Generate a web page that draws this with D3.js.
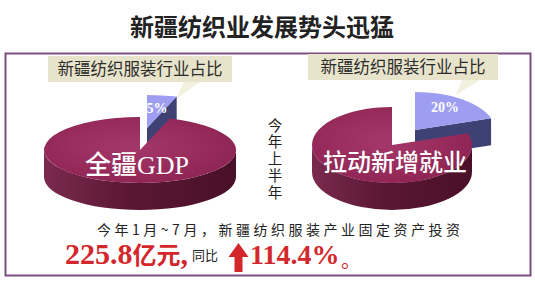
<!DOCTYPE html>
<html><head><meta charset="utf-8">
<script src="https://cdn.jsdelivr.net/npm/d3@7"></script>
<style>body{margin:0;background:#fff}svg{display:block}</style>
</head><body>
<script>
// ---- data ----
const title = "新疆纺织业发展势头迅猛";
const pieNames = ["全疆GDP", "拉动新增就业"];
const industryShare = [5, 20];           // percent
const shareLabels = ["5%", "20%"];
const calloutLabel = "新疆纺织服装行业占比";
const periodLabel = "今年上半年";
const investNote = "今年1月~7月，新疆纺织服装产业固定资产投资";
const investValue = "225.8";
const investUnit = "亿元";
const growthWord = "同比";
const growthValue = "114.4%";

// ---- layout ----
const W = 535, H = 286;
const layouts = [
  {cx:140, cy:150, rx:96, ry:33, depth:27, explode:[7,-22], labelX:137, labelY:174, labelSize:26,
   pctX:157, pctY:113, box:{x:48,y:56,w:184,h:26}, tail:[[184,82],[200,82],[176,99]]},
  {cx:392, cy:145, rx:80, ry:38, depth:27, explode:[23,-15], labelX:395, labelY:171, labelSize:24,
   pctX:445, pctY:112, box:{x:308,y:54,w:190,h:26}, tail:[[462,80],[480,80],[456,95]]}
];
const mainCols = {top:"url(#mainTop)", side:"url(#mainSide)", face:"#5a1734"};
const sliceCols = {top:"#9d9ef2", side:"#3e4173", face:"#3e4173"};
const red = "#d3272c";
const cjk = "'Noto Sans CJK SC', sans-serif";
const serif = "'Liberation Serif', 'Noto Sans CJK SC', serif";

const svg = d3.select("body").append("svg").attr("width", W).attr("height", H);
const defs = svg.append("defs");
const mt = defs.append("radialGradient").attr("id","mainTop").attr("cx","45%").attr("cy","45%").attr("r","60%");
mt.append("stop").attr("offset","0%").attr("stop-color","#a5386a");
mt.append("stop").attr("offset","100%").attr("stop-color","#8e2454");
const ms = defs.append("linearGradient").attr("id","mainSide").attr("x1","0").attr("x2","1").attr("y1","0").attr("y2","0");
ms.append("stop").attr("offset","0%").attr("stop-color","#7a2a4e");
ms.append("stop").attr("offset","45%").attr("stop-color","#5a1734");
ms.append("stop").attr("offset","100%").attr("stop-color","#4a1029");

// title
svg.append("text").attr("x", 262).attr("y", 36).attr("text-anchor","middle")
  .attr("font-family", cjk).attr("font-weight", 700).attr("font-size", 24).attr("fill", "#222")
  .text(title);

// frame
svg.append("rect").attr("x", 5.5).attr("y", 53.5).attr("width", 525).attr("height", 222)
  .attr("fill", "#fff").attr("stroke", "#7d4f80").attr("stroke-width", 2);

function pie3d(g, share, L) {
  const arcs = d3.pie().sort(null).startAngle(0).endAngle(2 * Math.PI)([share, 100 - share]);
  const k = L.ry / L.rx, R = L.rx, D = L.depth / k;
  const arcGen = d3.arc().innerRadius(0).outerRadius(R);
  const P = (a, dy = 0) => [R * Math.sin(a), -R * Math.cos(a) + dy];
  arcs.forEach((a, i) => {
    const off = i === 0 ? L.explode : [0, 0];
    const cols = i === 0 ? sliceCols : mainCols;
    const gg = g.append("g").attr("transform", `translate(${L.cx + off[0]},${L.cy + off[1]}) scale(1,${k})`);
    // outer wall (front half only)
    const b0 = Math.max(a.startAngle, Math.PI / 2), b1 = Math.min(a.endAngle, 3 * Math.PI / 2);
    if (b1 > b0) {
      const t0 = b0 - Math.PI / 2, t1 = b1 - Math.PI / 2;
      const p = d3.path();
      p.moveTo(R * Math.cos(t0), R * Math.sin(t0));
      p.arc(0, 0, R, t0, t1, false);
      p.lineTo(R * Math.cos(t1), R * Math.sin(t1) + D);
      p.arc(0, D, R, t1, t0, true);
      p.closePath();
      gg.append("path").attr("d", p.toString()).attr("fill", cols.side);
    }
    // radial faces
    const face = ang => {
      const p = d3.path();
      const e = P(ang), f = P(ang, D);
      p.moveTo(0, 0); p.lineTo(e[0], e[1]); p.lineTo(f[0], f[1]); p.lineTo(0, D); p.closePath();
      gg.append("path").attr("d", p.toString()).attr("fill", cols.face);
    };
    if (Math.sin(a.endAngle) > 1e-6) face(a.endAngle);
    if (Math.sin(a.startAngle) < -1e-6) face(a.startAngle);
    // top
    gg.append("path").attr("d", arcGen(a)).attr("fill", cols.top);
  });
}

layouts.forEach((L, i) => {
  // callout box + tail
  svg.append("polygon").attr("points", L.tail.map(p => p.join(",")).join(" ")).attr("fill", "#f2f0df");
  svg.append("rect").attr("x", L.box.x).attr("y", L.box.y).attr("width", L.box.w).attr("height", L.box.h)
    .attr("fill", "#e8e4cb");
  svg.append("text").attr("x", L.box.x + L.box.w / 2).attr("y", L.box.y + 19).attr("text-anchor", "middle")
    .attr("font-family", cjk).attr("font-size", 16.5).attr("fill", "#2c2c2c").text(calloutLabel);

  const g = svg.append("g");
  pie3d(g, industryShare[i], L);
  svg.append("text").attr("x", L.pctX).attr("y", L.pctY).attr("text-anchor", "middle")
    .attr("font-family", serif).attr("font-weight", 700).attr("font-size", 14).attr("fill", "#fff")
    .text(shareLabels[i]);
  svg.append("text").attr("x", L.labelX).attr("y", L.labelY).attr("text-anchor", "middle")
    .attr("font-family", serif).attr("font-weight", 500).attr("font-size", L.labelSize).attr("fill", "#fff")
    .text(pieNames[i]);
});

// vertical period label (single vertical text)
svg.append("text").attr("x", 275).attr("y", 118)
  .style("writing-mode", "vertical-rl").style("letter-spacing", "2.2px")
  .attr("font-family", cjk).attr("font-size", 14.5).attr("fill", "#222").text(periodLabel);

// note line
svg.append("text").attr("x", 97).attr("y", 235).attr("textLength", 363).attr("lengthAdjust", "spacing")
  .attr("font-family", cjk).attr("font-size", 14).attr("fill", "#222").text(investNote);

// big red figures
const t1 = svg.append("text").attr("x", 65).attr("y", 264).attr("fill", red)
  .attr("font-family", serif).attr("font-weight", 700);
t1.append("tspan").attr("font-size", 30).text(investValue);
t1.append("tspan").attr("font-size", 24).attr("font-family", cjk).text(investUnit);
t1.append("tspan").attr("font-size", 30).text(",");
svg.append("text").attr("x", 192).attr("y", 260).attr("font-family", cjk).attr("font-size", 13)
  .attr("fill", "#222").text(growthWord);
svg.append("path").attr("d", "M238.5,243 L228.5,257 L234.5,257 L234.5,272 L242.5,272 L242.5,257 L248.5,257 Z")
  .attr("fill", red);
svg.append("text").attr("x", 250).attr("y", 264).attr("fill", red)
  .attr("font-family", serif).attr("font-weight", 700).attr("font-size", 28).text(growthValue);
svg.append("text").attr("x", 341).attr("y", 268).attr("fill", red)
  .attr("font-family", cjk).attr("font-size", 20).text("。");
</script>
</body></html>
